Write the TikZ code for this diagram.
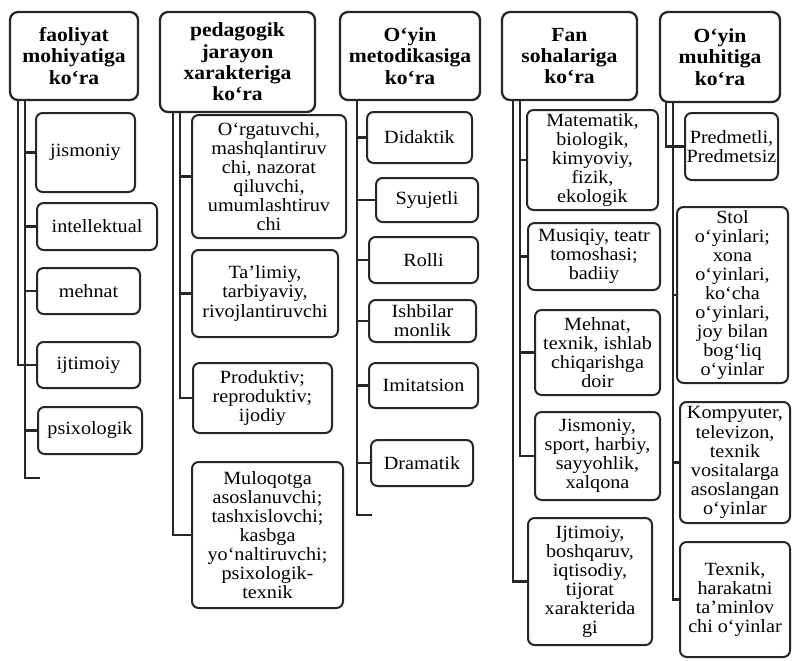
\documentclass[tikz,border=0pt]{standalone}
\usepackage{fontspec}
\setmainfont{Liberation Serif}[FakeStretch=1.08]
\usetikzlibrary{positioning}

\begin{document}
\begin{tikzpicture}[
        x=0.75pt, y=-0.75pt,
        hdr/.style={draw=black!85, line width=1.7pt, rounded corners=6pt,
            align=center, inner sep=1pt,
            font=\fontsize{15}{16}\selectfont\bfseries},
        kid/.style={draw=black!85, line width=1.5pt, rounded corners=5pt,
            align=center, inner sep=1pt,
            font=\fontsize{14}{14.3}\selectfont},
        sz/.style 2 args={minimum width=#1*0.75pt, minimum height=#2*0.75pt},
        trunk/.style={draw=black!85, line width=2pt}
    ]
    \fill[white] (0,0) rectangle (794,661);
    \useasboundingbox (0,0) rectangle (794,661);

    % headers
    \node[hdr, sz={128}{88}] (h1) at (74,56) {faoliyat\\ mohiyatiga\\ ko‘ra};
    \node[hdr, sz={155}{100}] (h2) at (237.5,62) {pedagogik\\ jarayon\\ xarakteriga\\ ko‘ra};
    \node[hdr, sz={140}{88}] (h3) at (410,56) {O‘yin\\ metodikasiga\\ ko‘ra};
    \node[hdr, sz={135}{88}] (h4) at (569.5,56) {Fan\\ sohalariga\\ ko‘ra};
    \node[hdr, sz={120}{90}] (h5) at (720,57) {O‘yin\\ muhitiga\\ ko‘ra};

    % faoliyat
    \node[kid, sz={99}{79}] (jism) at (85.5,152.5) {jismoniy};
    \node[kid, sz={120}{47}] (intel) at (97,226.5) {intellektual};
    \node[kid, sz={103}{46}] (mehn) at (88.5,291) {mehnat};
    \node[kid, sz={103}{46}] (ijt) at (88.5,365) {ijtimoiy};
    \node[kid, sz={104}{47}] (psix) at (90,430.5) {psixologik};

    % pedagogik jarayon
    \node[kid, sz={154}{123}] (orgat) at (269,176.5) {O‘rgatuvchi,\\ mashqlantiruv\\ chi, nazorat\\ qiluvchi,\\ umumlashtiruv\\ chi};
    \node[kid, sz={146}{87}] (talim) at (265,293.5) {Ta’limiy,\\ tarbiyaviy,\\ rivojlantiruvchi};
    \node[kid, sz={139}{70}] (prod) at (262.5,398) {Produktiv;\\ reproduktiv;\\ ijodiy};
    \node[kid, sz={151}{146}] (muloq) at (267.5,535) {Muloqotga\\ asoslanuvchi;\\ tashxislovchi;\\ kasbga\\ yo‘naltiruvchi;\\ psixologik-\\ texnik};

    % metodika
    \node[kid, sz={105}{51}] (didak) at (419.5,137.5) {Didaktik};
    \node[kid, sz={102}{44}] (syuj) at (427,200) {Syujetli};
    \node[kid, sz={109}{46}] (rolli) at (423.5,260) {Rolli};
    \node[kid, sz={107}{42}] (ishbil) at (422.5,321) {Ishbilar\\ monlik};
    \node[kid, sz={109}{45}] (imit) at (423.5,385.5) {Imitatsion};
    \node[kid, sz={102}{46}] (drama) at (422,463) {Dramatik};

    % fan sohalari
    \node[kid, sz={131}{100}] (matem) at (592.5,160) {Matematik,\\ biologik,\\ kimyoviy,\\ fizik,\\ ekologik};
    \node[kid, sz={132}{67}] (musiq) at (594,256.5) {Musiqiy, teatr\\ tomoshasi;\\ badiiy};
    \node[kid, sz={125}{85}] (mehtex) at (597.5,352.5) {Mehnat,\\ texnik, ishlab\\ chiqarishga\\ doir};
    \node[kid, sz={125}{88}] (sport) at (597.5,456) {Jismoniy,\\ sport, harbiy,\\ sayyohlik,\\ xalqona};
    \node[kid, sz={124}{127}] (iqtis) at (590,581.5) {Ijtimoiy,\\ boshqaruv,\\ iqtisodiy,\\ tijorat\\ xarakterida\\ gi};

    % muhit
    \node[kid, sz={93}{67}] (predm) at (731.5,146.5) {Predmetli,\\ Predmetsiz};
    \node[kid, sz={111}{176}] (stol) at (732.5,295) {Stol\\ o‘yinlari;\\ xona\\ o‘yinlari,\\ ko‘cha\\ o‘yinlari,\\ joy bilan\\ bog‘liq\\ o‘yinlar};
    \node[kid, sz={110}{121}] (kompy) at (735,462.5) {Kompyuter,\\ televizon,\\ texnik\\ vositalarga\\ asoslangan\\ o‘yinlar};
    \node[kid, sz={110}{115}] (harak) at (735,599.5) {Texnik,\\ harakatni\\ ta’minlov\\ chi o‘yinlar};

    % trunk lines
    \coordinate (x1a) at (18,0);
    \coordinate (x1b) at (25,0);
    \coordinate (x2a) at (173,0);
    \coordinate (x2b) at (180,0);
    \coordinate (x3) at (357,0);
    \coordinate (x4a) at (513,0);
    \coordinate (x4b) at (520,0);
    \coordinate (x5a) at (666,0);
    \coordinate (x5b) at (673,0);
    \coordinate (e1) at (40,478);
    \coordinate (e3) at (372,515);

    \foreach \c in {jism,intel,mehn,psix}
        \draw[trunk] (h1.south -| x1b) |- (\c.west);
    \draw[trunk] (h1.south -| x1b) |- (e1);
    \draw[trunk] (h1.south -| x1a) |- (ijt.west);

    \foreach \c in {orgat,talim,prod}
        \draw[trunk] (h2.south -| x2b) |- (\c.west);
    \draw[trunk] (h2.south -| x2a) |- (muloq.west);

    \foreach \c in {didak,syuj,rolli,ishbil,imit,drama}
        \draw[trunk] (h3.south -| x3) |- (\c.west);
    \draw[trunk] (h3.south -| x3) |- (e3);

    \foreach \c in {matem,musiq,mehtex,sport}
        \draw[trunk] (h4.south -| x4b) |- (\c.west);
    \draw[trunk] (h4.south -| x4a) |- (iqtis.west);

    \draw[trunk] (h5.south -| x5a) |- (predm.west);
    \foreach \c in {stol,kompy,harak}
        \draw[trunk] (h5.south -| x5b) |- (\c.west);
\end{tikzpicture}
\end{document}
